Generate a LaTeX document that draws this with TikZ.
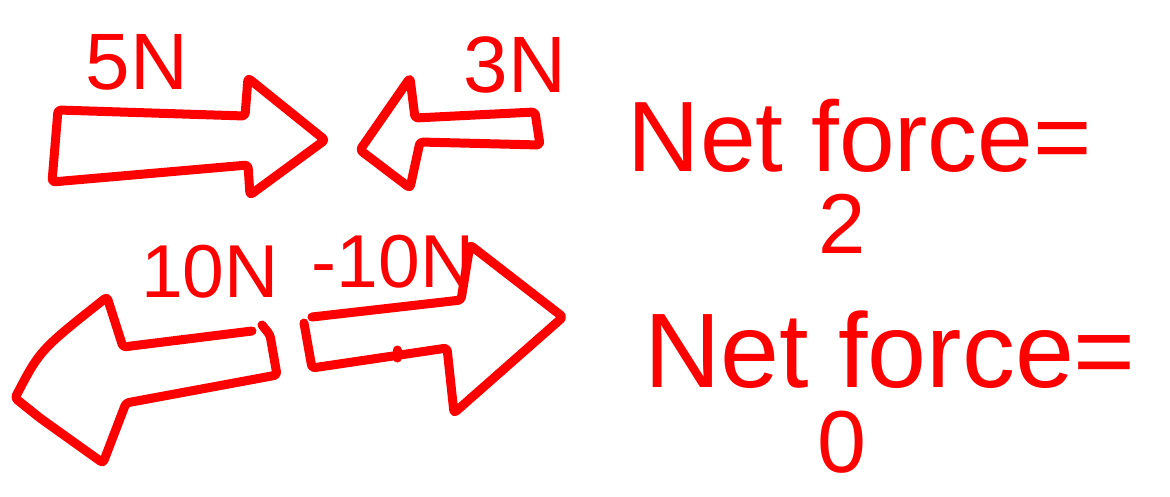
\documentclass[tikz,border=0pt]{standalone}
\usepackage{fontspec}
\setmainfont{Liberation Sans}
\definecolor{ink}{RGB}{255,0,0}
\tikzset{
  stroke/.style={draw=ink, line width=9pt, line cap=round, line join=round, rounded corners=3pt},
  scrawl/.style={text=ink, inner sep=0pt, font=\fontsize{#1}{#1}\selectfont}
}
\begin{document}
\begin{tikzpicture}[x=1pt,y=-1pt]
  \useasboundingbox (0,0) rectangle (1170,496);
  % force arrows
  \draw[stroke] (58,110) -- (245,116) -- (248,78) -- (325,140) -- (250,195) -- (248,165) -- (52,182) -- cycle;
  \draw[stroke] (535,112) -- (415,118) -- (410,78) -- (360,150) -- (410,188) -- (420,142) -- (540,145) -- cycle;
  \draw[stroke] (262,325) -- (270,335) -- (277,375) -- (126,403) -- (103,463) -- (40,418) -- (15,398)
    .. controls (40,350) .. (107,297) -- (123,347) -- (252,331);
  \draw[stroke] (304,323) -- (312,368) -- (447,348) -- (454,413) -- (563,317) -- (470,245) -- (461,300) -- (312,317);
  \draw[stroke] (397,350) -- (397,358);
  % labels
  \node[scrawl=80] (fa) at (137,62) {5N};
  \node[scrawl=80] (fb) at (515,65) {3N};
  \node[scrawl=75] (fc) at (210,272) {10N};
  \node[scrawl=75] (fd) at (393,262) {-10N};
  \node[scrawl=100] (neta) at (860,136) {Net force=};
  \node[scrawl=85] (suma) at (842,224) {2};
  \node[scrawl=106] (netb) at (890,350) {Net force=};
  \node[scrawl=88] (sumb) at (842,442) {0};
\end{tikzpicture}
\end{document}
